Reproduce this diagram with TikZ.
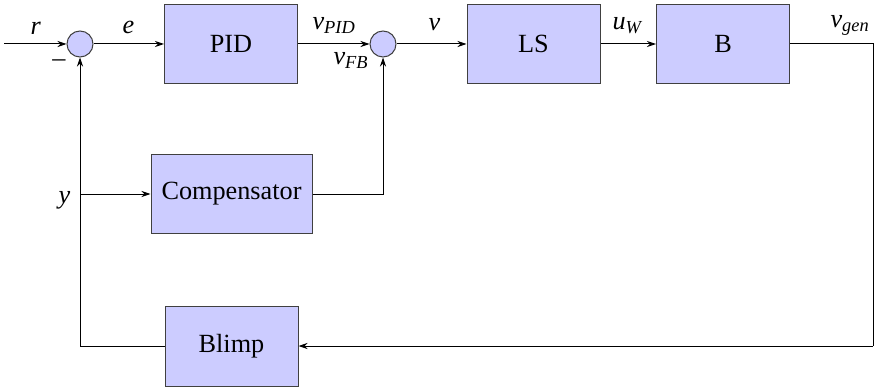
\documentclass[tikz,border=0pt]{standalone}
\usepackage{fontspec}
\setmainfont{LiberationSerif}[Extension=.ttf,UprightFont=*-Regular,ItalicFont=*-Italic,BoldFont=*-Bold,BoldItalicFont=*-BoldItalic]
\usetikzlibrary{arrows.meta}
\newcommand{\sym}[1]{\textit{#1}}
\newcommand{\sub}[2]{\textit{#1}\textsubscript{\textit{#2}}}
\begin{document}
\begin{tikzpicture}[x=1pt,y=-1pt,
  font=\fontsize{26.25}{31}\selectfont,
  every path/.style={line width=1pt},
  block/.style={draw=black!75,fill=blue!20,minimum width=133pt,minimum height=79pt,inner sep=0pt},
  sumnode/.style={circle,draw=black!75,fill=blue!20,minimum size=26pt,inner sep=0pt},
  sig/.style={draw=black,-{Stealth[length=9pt,width=6pt]}},
  wire/.style={draw=black},
  lbl/.style={anchor=base west,inner sep=0pt}]
  \useasboundingbox (0,0) rectangle (874,390);

  % blocks
  \node[block] (pid) at (231,44) {PID};
  \node[block] (ls) at (533.5,44) {LS};
  \node[block] (b) at (723,44) {B};
  \node[block,minimum width=161pt,minimum height=78pt] (comp) at (231.5,194) {Compensator};
  \node[block,minimum height=80pt] (blimp) at (231.5,346) {Blimp};

  % summing junctions
  \node[sumnode] (s1) at (80,44) {};
  \node[sumnode] (s2) at (383,44) {};

  % helper points
  \coordinate (in) at (4,44);
  \coordinate (out) at (873,44);
  \coordinate (ret) at (873,346);
  \coordinate (fbl) at (80,346);
  \coordinate (tap) at (80,194);
  \coordinate (cr) at (383,194);

  % forward path
  \path[sig] (in) -- (s1);
  \path[sig] (s1) -- (pid);
  \path[sig] (pid) -- (s2);
  \path[sig] (s2) -- (ls);
  \path[sig] (ls) -- (b);
  \path[wire] (b) -- (out) -- (ret);

  % feedback paths
  \path[sig] (ret) -- (blimp);
  \path[sig] (blimp.west) -- (fbl) -- (s1);
  \path[sig] (tap) -- (comp);
  \path[sig] (comp.east) -- (cr) -- (s2);

  % signal labels
  \node[lbl] (lr) at (30,35) {\sym{r}};
  \node[lbl] (le) at (122,34) {\sym{e}};
  \node[lbl] (lvpid) at (312,30) {\sub{v}{PID}};
  \node[lbl] (lvfb) at (333,65) {\sub{v}{FB}};
  \node (lminus) at (59,63) {--};
  \node[lbl] (lv) at (428,31) {\sym{v}};
  \node[lbl] (luw) at (612,30) {\sub{u}{W}};
  \node[lbl] (lvgen) at (830,28) {\sub{v}{gen}};
  \node[lbl] (ly) at (58,203) {\sym{y}};
\end{tikzpicture}
\end{document}
